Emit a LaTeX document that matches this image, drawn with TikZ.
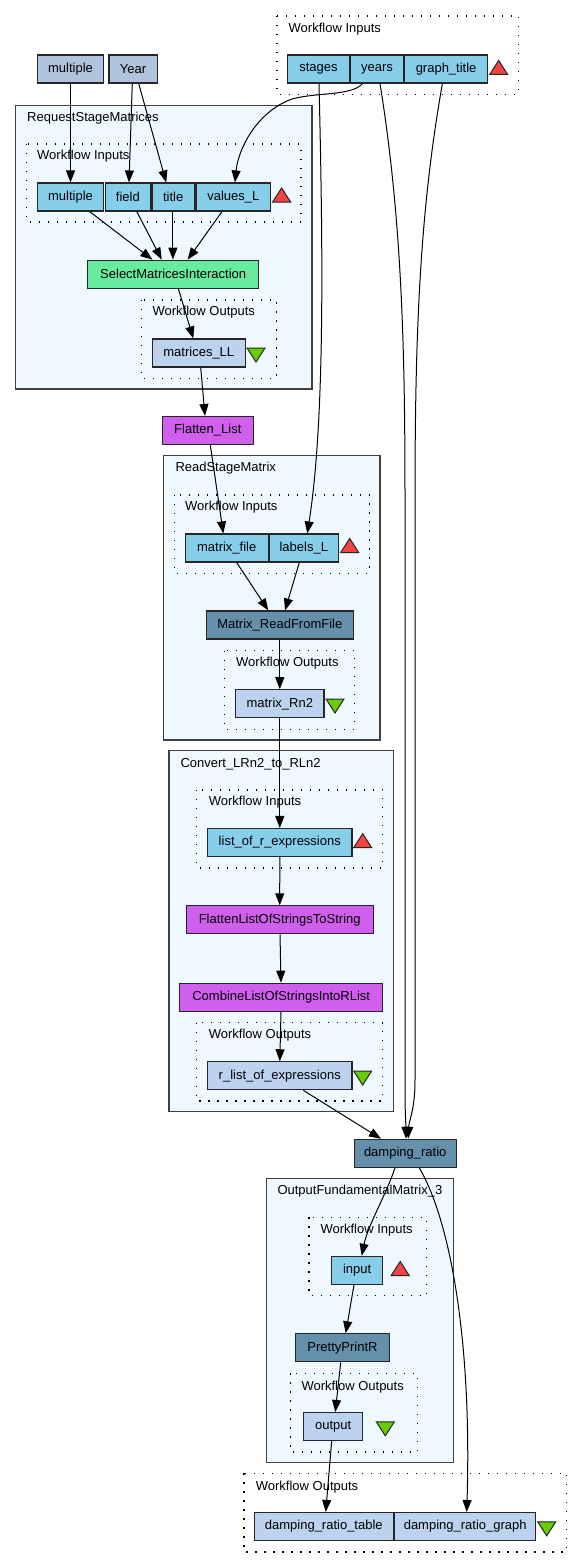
\documentclass[tikz,border=0pt]{standalone}
\usepackage{fontspec}
\setmainfont{Liberation Sans}
\usetikzlibrary{arrows.meta,calc}
\definecolor{cconst}{HTML}{B0C4DE}
\definecolor{cin}{HTML}{87CEEB}
\definecolor{cout}{HTML}{BCD2EE}
\definecolor{cinter}{HTML}{68EA9F}
\definecolor{clocal}{HTML}{D15FEE}
\definecolor{crshell}{HTML}{6590AC}
\definecolor{cclu}{HTML}{F0F8FF}
\definecolor{ctred}{HTML}{F54242}
\definecolor{ctgreen}{HTML}{66CD00}
\tikzset{
  box/.style={draw=black!85, line width=1.1pt, minimum height=28pt, inner sep=0pt, anchor=center},
  constbox/.style={box, fill=cconst},
  inbox/.style={box, fill=cin},
  outbox/.style={box, fill=cout},
  interbox/.style={box, fill=cinter},
  localbox/.style={box, fill=clocal},
  rbox/.style={box, fill=crshell},
  clusterbox/.style={draw=black!75, fill=cclu, line width=1.3pt},
  dotbox/.style={draw=black, line width=1.1pt, dash pattern=on 1.2pt off 7.8pt},
  lbl/.style={anchor=west, inner sep=0pt},
  edge/.style={-{Triangle[length=12pt,width=9pt]}, line width=1pt, draw=black},
  uptri/.style={fill=ctred, draw=black!85, line width=1pt},
  downtri/.style={fill=ctgreen, draw=black!85, line width=1pt}
}
\newcommand\UpTri[2]{\filldraw[uptri] (#1-9,#2+7) -- (#1+9,#2+7) -- (#1,#2-7) -- cycle;}
\newcommand\DownTri[2]{\filldraw[downtri] (#1-9,#2-7) -- (#1+9,#2-7) -- (#1,#2+7) -- cycle;}
\begin{document}
\begin{tikzpicture}[x=1pt,y=-1pt,font=\fontsize{13}{15}\selectfont]
\useasboundingbox (0,0) rectangle (583,1568);

% clusters
\path[clusterbox] (15.6,105.3) rectangle (312,389);
\path[clusterbox] (163.3,455.7) rectangle (380,740);
\path[clusterbox] (169,750.7) rectangle (393.3,1111.7);
\path[clusterbox] (266.3,1178.3) rectangle (453.3,1462.3);

% dotted boxes
\path[dotbox] (277,16) rectangle (518.6,94.3);
\path[dotbox] (26.8,144) rectangle (301,222);
\path[dotbox] (141.3,300) rectangle (276.2,378.3);
\path[dotbox] (174.3,495) rectangle (369.3,573.3);
\path[dotbox] (224.7,650.7) rectangle (354.7,729.3);
\path[dotbox] (196.7,790) rectangle (382.7,868);
\path[dotbox] (196.7,1022.7) rectangle (382.7,1101);
\path[dotbox] (309,1217.3) rectangle (426.7,1295.7);
\path[dotbox] (290.3,1373.3) rectangle (417.3,1452);
\path[dotbox] (244,1473.3) rectangle (566.7,1552);

% labels
\node[lbl] (l1) at (288.5,28.7) {Workflow Inputs};
\node[lbl] (l2) at (27,118) {RequestStageMatrices};
\node[lbl] (l3) at (37,156) {Workflow Inputs};
\node[lbl] (l4) at (152.4,312) {Workflow Outputs};
\node[lbl] (l5) at (175.3,468.3) {ReadStageMatrix};
\node[lbl] (l6) at (185,507.3) {Workflow Inputs};
\node[lbl] (l7) at (236,663.3) {Workflow Outputs};
\node[lbl] (l8) at (180.3,764) {Convert\_LRn2\_to\_RLn2};
\node[lbl] (l9) at (208.7,802.3) {Workflow Inputs};
\node[lbl] (l10) at (208.7,1035) {Workflow Outputs};
\node[lbl] (l11) at (277.3,1191) {OutputFundamentalMatrix\_3};
\node[lbl] (l12) at (320.3,1230) {Workflow Inputs};
\node[lbl] (l13) at (301.3,1386.7) {Workflow Outputs};
\node[lbl] (l14) at (255.7,1486.7) {Workflow Outputs};

% nodes
\node[constbox, minimum width=66.5pt] (mult0) at (70.5,69) {multiple};
\node[constbox, minimum width=48.2pt] (year0) at (133.1,69) {Year};
\node[inbox, minimum width=62pt] (stages) at (318.5,69) {stages};
\node[inbox, minimum width=53pt] (years) at (377,69) {years};
\node[inbox, minimum width=83.2pt] (gt) at (446.1,69) {graph\_title};

\node[inbox, minimum width=66.5pt] (mult1) at (70.5,197) {multiple};
\node[inbox, minimum width=45.4pt] (field) at (127.9,197) {field};
\node[inbox, minimum width=42.4pt] (title) at (173.2,197) {title};
\node[inbox, minimum width=74.6pt] (vals) at (233.3,197) {values\_L};
\node[interbox, minimum width=171pt] (sel) at (173.2,274.2) {SelectMatricesInteraction};
\node[outbox, minimum width=93pt] (mll) at (198.8,353) {matrices\_LL};

\node[localbox, minimum width=91pt] (flat) at (207.8,430.5) {Flatten\_List};

\node[inbox, minimum width=83.3pt] (mfile) at (226.7,548) {matrix\_file};
\node[inbox, minimum width=69.7pt] (labl) at (303.8,548) {labels\_L};
\node[rbox, minimum width=147pt] (mrf) at (279.8,625) {Matrix\_ReadFromFile};
\node[outbox, minimum width=88.3pt] (mrn) at (279.8,703.7) {matrix\_Rn2};

\node[inbox, minimum width=144.3pt] (lre) at (279.8,842.5) {list\_of\_r\_expressions};
\node[localbox, minimum width=186.7pt] (flos) at (279.7,919.8) {FlattenListOfStringsToString};
\node[localbox, minimum width=203pt] (comb) at (281.2,997.2) {CombineListOfStringsIntoRList};
\node[outbox, minimum width=144.3pt] (rle) at (279.8,1075.8) {r\_list\_of\_expressions};

\node[rbox, minimum width=101.7pt] (dr) at (405.2,1153.3) {damping\_ratio};

\node[inbox, minimum width=51pt] (input) at (357.2,1270.3) {input};
\node[rbox, minimum width=93.6pt] (ppr) at (342.5,1347.8) {PrettyPrintR};
\node[outbox, minimum width=59pt] (output) at (333.2,1426.5) {output};

\node[outbox, minimum width=139pt] (drt) at (323.8,1526.5) {damping\_ratio\_table};
\node[outbox, minimum width=141pt] (drg) at (465.2,1526.5) {damping\_ratio\_graph};

% triangles
\UpTri{498.7}{67.5}
\UpTri{281.6}{195}
\DownTri{256}{355}
\UpTri{349.7}{545.5}
\DownTri{335}{706}
\UpTri{362.7}{840.7}
\DownTri{362.7}{1078}
\UpTri{400.2}{1268.5}
\DownTri{385.3}{1428.8}
\DownTri{546.7}{1528.8}

% edges
\draw[edge] (mult0.south) -- (mult1.north);
\draw[edge] ([xshift=-0.8pt]year0.south) -- ([xshift=1.1pt]field.north);
\draw[edge] ([xshift=5.6pt]year0.south) -- ([xshift=-7pt]title.north);
\draw[edge] ([xshift=-14.5pt]years.south) .. controls (352,96) and (318,92) .. (292,99) .. controls (256,112) and (238,150) .. ([xshift=1.7pt]vals.north);
\draw[edge] ([xshift=0.5pt]stages.south) .. controls (323,250) and (325,420) .. ([xshift=3.5pt]labl.north);
\draw[edge] ([xshift=3pt]years.south) .. controls (402,220) and (405,350) .. (405,500) -- (405,1090) .. controls (405,1115) and (406,1125) .. ([xshift=0.8pt]dr.north);
\draw[edge] ([xshift=-3.7pt]gt.south) .. controls (420,210) and (415,330) .. (415,500) -- (415,1080) .. controls (415,1110) and (409,1120) .. ([xshift=3pt]dr.north);

\draw[edge] ([xshift=19.1pt]mult1.south) -- ([xshift=-20.8pt]sel.north);
\draw[edge] ([xshift=8.9pt]field.south) -- ([xshift=-11.5pt]sel.north);
\draw[edge] ([xshift=-0.3pt]title.south) -- ([xshift=-0.3pt]sel.north);
\draw[edge] ([xshift=-11.3pt]vals.south) -- ([xshift=14.5pt]sel.north);
\draw[edge] ([xshift=5.2pt]sel.south) -- ([xshift=-5.5pt]mll.north);
\draw[edge] ([xshift=1.9pt]mll.south) -- ([xshift=-2.8pt]flat.north);
\draw[edge] ([xshift=2.5pt]flat.south) -- ([xshift=-3.4pt]mfile.north);
\draw[edge] ([xshift=10pt]mfile.south) -- ([xshift=-11.5pt]mrf.north);
\draw[edge] ([xshift=-4.5pt]labl.south) -- ([xshift=5.2pt]mrf.north);
\draw[edge] (mrf.south) -- (mrn.north);
\draw[edge] (mrn.south) -- (lre.north);
\draw[edge] (lre.south) -- (flos.north);
\draw[edge] ([xshift=0.3pt]flos.south) -- ([xshift=-0.2pt]comb.north);
\draw[edge] ([xshift=-0.2pt]comb.south) -- (rle.north);
\draw[edge] ([xshift=23.5pt]rle.south) -- ([xshift=-24.2pt]dr.north);
\draw[edge] ([xshift=-10.2pt]dr.south) .. controls (386,1195) and (368,1225) .. ([xshift=4.5pt]input.north);
\draw[edge] ([xshift=14.1pt]dr.south) .. controls (450,1220) and (472,1340) .. ([xshift=1.5pt]drg.north);
\draw[edge] ([xshift=-3.2pt]input.south) -- ([xshift=3.2pt]ppr.north);
\draw[edge] ([xshift=-1.8pt]ppr.south) -- ([xshift=2.1pt]output.north);
\draw[edge] ([xshift=-1.5pt]output.south) -- ([xshift=1.9pt]drt.north);
\end{tikzpicture}
\end{document}
